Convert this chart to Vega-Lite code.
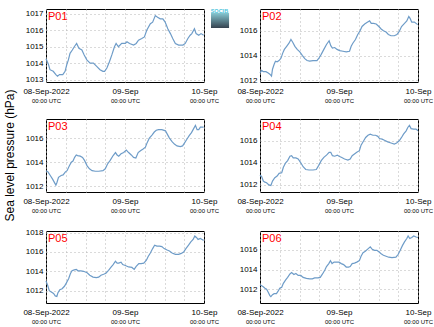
{
  "$schema": "https://vega.github.io/schema/vega-lite/v6.json",
  "padding": {"left": 4, "top": 8, "right": 4, "bottom": 4},
  "title": {"text": "Sea level pressure (hPa)", "orient": "left", "anchor": "middle", "fontSize": 12, "fontWeight": "normal", "color": "#000000", "offset": 5, "dx": 11},
  "datasets": {
    "p01": [{"h":0,"v":1014.26},{"h":0.7,"v":1013.95},{"h":1.2,"v":1013.6},{"h":2.2,"v":1013.5},{"h":3.0,"v":1013.3},{"h":3.5,"v":1013.2},{"h":4.1,"v":1013.3},{"h":5.1,"v":1013.3},{"h":5.8,"v":1013.5},{"h":6.3,"v":1013.9},{"h":6.8,"v":1014.2},{"h":7.3,"v":1014.6},{"h":8.0,"v":1014.8},{"h":8.6,"v":1015.0},{"h":9.3,"v":1015.2},{"h":10.0,"v":1014.9},{"h":10.9,"v":1014.8},{"h":11.6,"v":1014.5},{"h":12.4,"v":1014.2},{"h":13.4,"v":1014.0},{"h":14.4,"v":1014.0},{"h":15.4,"v":1013.8},{"h":16.4,"v":1013.6},{"h":17.3,"v":1013.5},{"h":17.8,"v":1013.5},{"h":18.5,"v":1013.7},{"h":19.3,"v":1014.1},{"h":20.0,"v":1014.5},{"h":20.8,"v":1015.0},{"h":21.3,"v":1015.2},{"h":22.0,"v":1015.0},{"h":23.0,"v":1015.2},{"h":24.1,"v":1015.2},{"h":24.6,"v":1015.3},{"h":25.4,"v":1015.2},{"h":26.6,"v":1015.1},{"h":27.4,"v":1015.2},{"h":28.1,"v":1015.4},{"h":29.1,"v":1015.5},{"h":29.9,"v":1015.6},{"h":30.6,"v":1016.0},{"h":31.7,"v":1016.4},{"h":32.4,"v":1016.5},{"h":33.2,"v":1016.9},{"h":33.9,"v":1016.8},{"h":34.7,"v":1016.7},{"h":35.5,"v":1016.7},{"h":36.2,"v":1016.5},{"h":37.0,"v":1016.1},{"h":37.8,"v":1015.8},{"h":38.5,"v":1015.5},{"h":39.3,"v":1015.2},{"h":40.3,"v":1015.1},{"h":41.6,"v":1015.1},{"h":42.3,"v":1015.2},{"h":43.1,"v":1015.5},{"h":43.8,"v":1015.7},{"h":44.3,"v":1015.8},{"h":45.1,"v":1016.1},{"h":45.6,"v":1015.8},{"h":46.4,"v":1015.7},{"h":47.1,"v":1015.8},{"h":47.9,"v":1015.7}],
    "p02": [{"h":0,"v":1012.6},{"h":0.5,"v":1012.8},{"h":1.0,"v":1012.7},{"h":1.8,"v":1012.7},{"h":2.5,"v":1012.6},{"h":3.0,"v":1012.5},{"h":3.5,"v":1012.35},{"h":3.8,"v":1012.9},{"h":4.3,"v":1013.3},{"h":4.7,"v":1013.55},{"h":5.2,"v":1013.5},{"h":5.8,"v":1013.6},{"h":6.4,"v":1013.8},{"h":6.9,"v":1014.2},{"h":7.4,"v":1014.5},{"h":8.1,"v":1014.75},{"h":8.8,"v":1015.0},{"h":9.4,"v":1015.3},{"h":9.9,"v":1015.1},{"h":10.6,"v":1014.75},{"h":11.3,"v":1014.5},{"h":12.1,"v":1014.3},{"h":12.9,"v":1014.0},{"h":13.6,"v":1013.75},{"h":14.3,"v":1013.6},{"h":15.1,"v":1013.55},{"h":16.1,"v":1013.6},{"h":17.3,"v":1013.6},{"h":17.9,"v":1013.8},{"h":18.6,"v":1014.1},{"h":19.4,"v":1014.5},{"h":20.2,"v":1014.9},{"h":21.0,"v":1015.2},{"h":21.5,"v":1014.8},{"h":22.0,"v":1014.6},{"h":22.7,"v":1014.65},{"h":23.4,"v":1014.5},{"h":24.2,"v":1014.4},{"h":25.2,"v":1014.35},{"h":26.2,"v":1014.3},{"h":27.2,"v":1014.35},{"h":27.7,"v":1014.75},{"h":28.2,"v":1015.0},{"h":29.0,"v":1015.3},{"h":29.7,"v":1015.7},{"h":30.4,"v":1016.0},{"h":31.0,"v":1016.35},{"h":31.8,"v":1016.55},{"h":32.6,"v":1016.7},{"h":33.3,"v":1016.8},{"h":33.8,"v":1016.6},{"h":34.5,"v":1016.6},{"h":35.3,"v":1016.55},{"h":36.1,"v":1016.35},{"h":36.8,"v":1016.15},{"h":37.5,"v":1016.0},{"h":38.3,"v":1015.9},{"h":39.0,"v":1015.7},{"h":39.8,"v":1015.6},{"h":40.8,"v":1015.6},{"h":41.6,"v":1015.7},{"h":42.3,"v":1015.95},{"h":43.0,"v":1016.35},{"h":43.9,"v":1016.6},{"h":44.6,"v":1016.8},{"h":45.2,"v":1017.15},{"h":45.6,"v":1017.0},{"h":46.1,"v":1016.7},{"h":46.9,"v":1016.7},{"h":47.4,"v":1016.6},{"h":47.9,"v":1016.5}],
    "p03": [{"h":0,"v":1013.3},{"h":0.6,"v":1013.2},{"h":1.3,"v":1012.9},{"h":2.0,"v":1012.6},{"h":2.5,"v":1012.35},{"h":3.0,"v":1012.1},{"h":3.3,"v":1012.3},{"h":3.8,"v":1012.75},{"h":4.6,"v":1012.9},{"h":5.2,"v":1012.95},{"h":5.9,"v":1013.2},{"h":6.4,"v":1013.3},{"h":7.1,"v":1013.7},{"h":7.7,"v":1014.0},{"h":8.2,"v":1014.1},{"h":8.7,"v":1014.4},{"h":9.2,"v":1014.6},{"h":9.6,"v":1014.55},{"h":10.4,"v":1014.5},{"h":11.1,"v":1014.4},{"h":11.7,"v":1014.15},{"h":12.5,"v":1013.7},{"h":13.2,"v":1013.45},{"h":14.0,"v":1013.3},{"h":15.0,"v":1013.25},{"h":16.0,"v":1013.25},{"h":17.3,"v":1013.3},{"h":18.0,"v":1013.45},{"h":18.7,"v":1013.85},{"h":19.5,"v":1014.15},{"h":20.4,"v":1014.55},{"h":21.1,"v":1014.8},{"h":21.6,"v":1014.6},{"h":22.1,"v":1014.5},{"h":22.8,"v":1014.7},{"h":23.6,"v":1014.8},{"h":24.4,"v":1015.0},{"h":25.1,"v":1014.8},{"h":25.9,"v":1014.6},{"h":26.6,"v":1014.4},{"h":27.3,"v":1014.35},{"h":28.0,"v":1014.8},{"h":28.7,"v":1014.95},{"h":29.5,"v":1015.1},{"h":30.2,"v":1015.25},{"h":30.7,"v":1015.6},{"h":31.4,"v":1016.0},{"h":32.2,"v":1016.25},{"h":32.9,"v":1016.5},{"h":33.5,"v":1016.65},{"h":34.2,"v":1016.7},{"h":35.2,"v":1016.7},{"h":36.3,"v":1016.6},{"h":36.8,"v":1016.35},{"h":37.5,"v":1016.0},{"h":38.3,"v":1015.7},{"h":39.0,"v":1015.5},{"h":39.8,"v":1015.35},{"h":40.8,"v":1015.3},{"h":41.5,"v":1015.35},{"h":42.1,"v":1015.6},{"h":42.8,"v":1015.9},{"h":43.5,"v":1016.2},{"h":44.2,"v":1016.45},{"h":44.9,"v":1016.8},{"h":45.4,"v":1017.05},{"h":45.9,"v":1016.7},{"h":46.4,"v":1016.7},{"h":46.9,"v":1016.9},{"h":47.6,"v":1016.9},{"h":47.9,"v":1016.9}],
    "p04": [{"h":0,"v":1012.9},{"h":0.5,"v":1012.75},{"h":1.0,"v":1012.35},{"h":1.5,"v":1012.25},{"h":2.0,"v":1012.2},{"h":2.7,"v":1012.0},{"h":3.3,"v":1011.95},{"h":3.8,"v":1012.35},{"h":4.5,"v":1012.65},{"h":5.2,"v":1012.8},{"h":5.8,"v":1013.05},{"h":6.6,"v":1013.1},{"h":7.1,"v":1013.6},{"h":7.8,"v":1014.0},{"h":8.4,"v":1014.2},{"h":9.1,"v":1014.6},{"h":9.6,"v":1014.65},{"h":10.1,"v":1014.45},{"h":10.9,"v":1014.45},{"h":11.6,"v":1014.35},{"h":12.3,"v":1014.05},{"h":13.1,"v":1013.65},{"h":13.9,"v":1013.4},{"h":14.9,"v":1013.35},{"h":16.1,"v":1013.35},{"h":17.1,"v":1013.4},{"h":17.8,"v":1013.75},{"h":18.6,"v":1014.2},{"h":19.4,"v":1014.5},{"h":20.2,"v":1014.7},{"h":21.0,"v":1014.95},{"h":21.5,"v":1014.95},{"h":22.0,"v":1014.65},{"h":22.7,"v":1014.6},{"h":23.5,"v":1014.7},{"h":24.0,"v":1014.6},{"h":24.7,"v":1014.5},{"h":25.7,"v":1014.35},{"h":26.7,"v":1014.25},{"h":27.4,"v":1014.35},{"h":28.0,"v":1014.65},{"h":28.7,"v":1014.8},{"h":29.4,"v":1014.95},{"h":30.2,"v":1015.1},{"h":30.7,"v":1015.6},{"h":31.5,"v":1016.0},{"h":32.1,"v":1016.3},{"h":32.8,"v":1016.5},{"h":33.5,"v":1016.6},{"h":34.3,"v":1016.5},{"h":35.1,"v":1016.5},{"h":35.8,"v":1016.4},{"h":36.3,"v":1016.2},{"h":37.1,"v":1016.15},{"h":37.8,"v":1016.05},{"h":38.8,"v":1015.9},{"h":39.8,"v":1015.8},{"h":40.8,"v":1015.7},{"h":41.5,"v":1015.8},{"h":42.3,"v":1016.0},{"h":43.0,"v":1016.3},{"h":43.6,"v":1016.6},{"h":44.4,"v":1016.9},{"h":44.9,"v":1017.2},{"h":45.4,"v":1017.4},{"h":45.9,"v":1017.1},{"h":46.7,"v":1017.05},{"h":47.4,"v":1017.05},{"h":48.0,"v":1016.9}],
    "p05": [{"h":0,"v":1013.0},{"h":0.5,"v":1012.55},{"h":1.0,"v":1012.0},{"h":1.6,"v":1011.85},{"h":2.3,"v":1011.7},{"h":2.8,"v":1011.45},{"h":3.3,"v":1011.4},{"h":3.6,"v":1011.75},{"h":4.2,"v":1012.1},{"h":4.9,"v":1012.2},{"h":5.6,"v":1012.45},{"h":6.2,"v":1012.8},{"h":6.9,"v":1013.25},{"h":7.4,"v":1013.75},{"h":7.9,"v":1014.05},{"h":8.6,"v":1014.15},{"h":9.2,"v":1014.2},{"h":9.7,"v":1014.05},{"h":10.6,"v":1014.05},{"h":11.4,"v":1014.0},{"h":12.5,"v":1013.85},{"h":13.3,"v":1013.6},{"h":14.3,"v":1013.4},{"h":15.3,"v":1013.35},{"h":16.0,"v":1013.4},{"h":16.7,"v":1013.6},{"h":17.5,"v":1013.7},{"h":18.2,"v":1013.8},{"h":19.0,"v":1014.1},{"h":19.7,"v":1014.4},{"h":20.4,"v":1014.7},{"h":21.1,"v":1015.05},{"h":21.6,"v":1014.85},{"h":22.1,"v":1014.85},{"h":22.8,"v":1014.95},{"h":23.3,"v":1014.7},{"h":24.1,"v":1014.6},{"h":25.1,"v":1014.45},{"h":26.1,"v":1014.4},{"h":26.8,"v":1014.2},{"h":27.4,"v":1014.5},{"h":28.2,"v":1014.8},{"h":28.9,"v":1014.8},{"h":29.7,"v":1014.85},{"h":30.5,"v":1015.15},{"h":31.0,"v":1015.5},{"h":31.7,"v":1015.9},{"h":32.4,"v":1016.35},{"h":33.0,"v":1016.7},{"h":33.7,"v":1016.6},{"h":34.5,"v":1016.6},{"h":35.2,"v":1016.55},{"h":35.9,"v":1016.35},{"h":36.8,"v":1016.2},{"h":37.5,"v":1016.1},{"h":38.3,"v":1015.9},{"h":39.3,"v":1015.75},{"h":40.3,"v":1015.75},{"h":41.1,"v":1015.85},{"h":41.8,"v":1016.0},{"h":42.5,"v":1016.35},{"h":43.3,"v":1016.7},{"h":44.0,"v":1017.05},{"h":44.7,"v":1017.3},{"h":45.2,"v":1017.65},{"h":45.7,"v":1017.5},{"h":46.2,"v":1017.3},{"h":46.9,"v":1017.4},{"h":47.4,"v":1017.3},{"h":47.9,"v":1017.2}],
    "p06": [{"h":0,"v":1012.45},{"h":0.5,"v":1012.35},{"h":1.0,"v":1012.25},{"h":1.5,"v":1012.1},{"h":2.0,"v":1012.0},{"h":2.5,"v":1011.7},{"h":3.0,"v":1011.35},{"h":3.3,"v":1011.25},{"h":3.8,"v":1011.45},{"h":4.3,"v":1011.55},{"h":5.0,"v":1011.55},{"h":5.5,"v":1011.8},{"h":6.0,"v":1012.1},{"h":6.6,"v":1012.2},{"h":7.1,"v":1012.6},{"h":7.8,"v":1012.95},{"h":8.4,"v":1013.2},{"h":9.1,"v":1013.55},{"h":9.6,"v":1013.7},{"h":10.3,"v":1013.5},{"h":10.9,"v":1013.6},{"h":11.6,"v":1013.4},{"h":12.4,"v":1013.4},{"h":13.1,"v":1013.2},{"h":14.1,"v":1013.1},{"h":15.1,"v":1013.05},{"h":15.9,"v":1013.05},{"h":16.6,"v":1013.15},{"h":17.6,"v":1013.15},{"h":18.3,"v":1013.2},{"h":19.0,"v":1013.55},{"h":19.7,"v":1013.95},{"h":20.2,"v":1014.3},{"h":20.9,"v":1014.6},{"h":21.4,"v":1014.9},{"h":21.9,"v":1014.6},{"h":22.5,"v":1014.75},{"h":23.2,"v":1014.75},{"h":24.0,"v":1014.75},{"h":24.7,"v":1014.6},{"h":25.4,"v":1014.5},{"h":26.2,"v":1014.25},{"h":26.9,"v":1014.25},{"h":27.4,"v":1014.3},{"h":28.0,"v":1014.6},{"h":28.7,"v":1014.65},{"h":29.4,"v":1014.75},{"h":30.2,"v":1014.9},{"h":30.7,"v":1015.35},{"h":31.3,"v":1015.7},{"h":32.0,"v":1015.85},{"h":32.8,"v":1016.1},{"h":33.5,"v":1016.3},{"h":34.1,"v":1016.05},{"h":34.8,"v":1015.95},{"h":35.5,"v":1015.95},{"h":36.1,"v":1015.8},{"h":36.8,"v":1015.6},{"h":37.5,"v":1015.45},{"h":38.3,"v":1015.35},{"h":39.1,"v":1015.25},{"h":40.1,"v":1015.2},{"h":41.3,"v":1015.25},{"h":42.0,"v":1015.55},{"h":42.6,"v":1015.95},{"h":43.3,"v":1016.45},{"h":43.9,"v":1016.8},{"h":44.6,"v":1017.15},{"h":45.0,"v":1017.4},{"h":45.5,"v":1017.15},{"h":46.1,"v":1017.25},{"h":46.7,"v":1017.4},{"h":47.4,"v":1017.3},{"h":48.0,"v":1017.25}]
  },
  "vconcat": [
    {
      "spacing": 7,
      "bounds": "flush",
      "hconcat": [
        {
          "width": 158, "height": 73,
          "data": {"name": "p01"},
          "layer": [
            {"mark": {"type": "line", "color": "#6e9cc8", "strokeWidth": 1.2},
             "encoding": {
               "x": {"field": "h", "type": "quantitative", "scale": {"domain": [0, 48], "nice": false}, "axis": {"orient": "bottom", "values": [0,6,12,18,24,30,36,42,48], "labelExpr": "datum.value == 0 ? '08-Sep-2022' : datum.value == 24 ? '09-Sep' : datum.value == 48 ? '10-Sep' : ''", "grid": true, "labelFlush": false, "labelOverlap": false, "labelBound": false, "labelPadding": 5, "labelFontSize": 8, "title": null}},
               "y": {"field": "v", "type": "quantitative", "scale": {"domain": [1012.85, 1017.3], "nice": false, "zero": false}, "axis": {"values": [1013,1014,1015,1016,1017], "format": "d", "labelFontSize": 8, "labelPadding": 3, "labelOverlap": false, "grid": true, "title": null, "minExtent": 22, "maxExtent": 22}}
             }},
            {"mark": {"type": "point", "opacity": 0},
             "encoding": {"x": {"field": "h", "type": "quantitative", "axis": {"orient": "bottom", "values": [0,24,48], "labelExpr": "'00:00 UTC'", "grid": false, "labelFlush": false, "labelOverlap": false, "labelBound": false, "labelPadding": 15, "labelFontSize": 6, "title": null}}}},
            {"data": {"values": [{"label": "P01"}]},
             "mark": {"type": "text", "color": "#ff0000", "fontSize": 11, "align": "left", "baseline": "top", "dx": 2, "dy": 2},
             "encoding": {"text": {"field": "label"}, "x": {"datum": 0, "axis": null}, "y": {"datum": 1017.3, "axis": null}}}
          ],
          "resolve": {"axis": {"x": "independent", "y": "independent"}}
        },
        {
          "width": 42, "height": 19,
          "view": {"stroke": null},
          "data": {"values": [{"name": "SOCIB"}]},
          "layer": [
            {"mark": {"type": "rect", "color": {"gradient": "linear", "x1": 0, "y1": 0, "x2": 0, "y2": 1, "stops": [{"offset": 0, "color": "#86c9d3"}, {"offset": 1, "color": "#35424f"}]}},
             "encoding": {"x": {"datum": 0, "scale": {"domain": [0, 1]}, "axis": null}, "x2": {"datum": 0.43}, "y": {"datum": 0.8, "scale": {"domain": [0, 1]}, "axis": null}, "y2": {"datum": 0}}},
            {"mark": {"type": "text", "color": "#4fc4dc", "fontSize": 5.5, "fontWeight": "bold", "baseline": "top", "align": "center"},
             "encoding": {"text": {"field": "name"}, "x": {"datum": 0.2}, "y": {"datum": 1}}}
          ]
        },
        {
          "width": 158, "height": 73,
          "data": {"name": "p02"},
          "layer": [
            {"mark": {"type": "line", "color": "#6e9cc8", "strokeWidth": 1.2},
             "encoding": {
               "x": {"field": "h", "type": "quantitative", "scale": {"domain": [0, 48], "nice": false}, "axis": {"orient": "bottom", "values": [0,6,12,18,24,30,36,42,48], "labelExpr": "datum.value == 0 ? '08-Sep-2022' : datum.value == 24 ? '09-Sep' : datum.value == 48 ? '10-Sep' : ''", "grid": true, "labelFlush": false, "labelOverlap": false, "labelBound": false, "labelPadding": 5, "labelFontSize": 8, "title": null}},
               "y": {"field": "v", "type": "quantitative", "scale": {"domain": [1011.87, 1017.76], "nice": false, "zero": false}, "axis": {"values": [1012,1014,1016], "format": "d", "labelFontSize": 8, "labelPadding": 3, "labelOverlap": false, "grid": true, "title": null, "minExtent": 22, "maxExtent": 22}}
             }},
            {"mark": {"type": "point", "opacity": 0},
             "encoding": {"x": {"field": "h", "type": "quantitative", "axis": {"orient": "bottom", "values": [0,24,48], "labelExpr": "'00:00 UTC'", "grid": false, "labelFlush": false, "labelOverlap": false, "labelBound": false, "labelPadding": 15, "labelFontSize": 6, "title": null}}}},
            {"data": {"values": [{"label": "P02"}]},
             "mark": {"type": "text", "color": "#ff0000", "fontSize": 11, "align": "left", "baseline": "top", "dx": 2, "dy": 2},
             "encoding": {"text": {"field": "label"}, "x": {"datum": 0, "axis": null}, "y": {"datum": 1017.76, "axis": null}}}
          ],
          "resolve": {"axis": {"x": "independent", "y": "independent"}}
        }
      ]
    },
    {
      "spacing": 56,
      "bounds": "flush",
      "hconcat": [
        {
          "width": 158, "height": 73,
          "data": {"name": "p03"},
          "layer": [
            {"mark": {"type": "line", "color": "#6e9cc8", "strokeWidth": 1.2},
             "encoding": {
               "x": {"field": "h", "type": "quantitative", "scale": {"domain": [0, 48], "nice": false}, "axis": {"orient": "bottom", "values": [0,6,12,18,24,30,36,42,48], "labelExpr": "datum.value == 0 ? '08-Sep-2022' : datum.value == 24 ? '09-Sep' : datum.value == 48 ? '10-Sep' : ''", "grid": true, "labelFlush": false, "labelOverlap": false, "labelBound": false, "labelPadding": 5, "labelFontSize": 8, "title": null}},
               "y": {"field": "v", "type": "quantitative", "scale": {"domain": [1011.53, 1017.58], "nice": false, "zero": false}, "axis": {"values": [1012,1014,1016], "format": "d", "labelFontSize": 8, "labelPadding": 3, "labelOverlap": false, "grid": true, "title": null, "minExtent": 22, "maxExtent": 22}}
             }},
            {"mark": {"type": "point", "opacity": 0},
             "encoding": {"x": {"field": "h", "type": "quantitative", "axis": {"orient": "bottom", "values": [0,24,48], "labelExpr": "'00:00 UTC'", "grid": false, "labelFlush": false, "labelOverlap": false, "labelBound": false, "labelPadding": 15, "labelFontSize": 6, "title": null}}}},
            {"data": {"values": [{"label": "P03"}]},
             "mark": {"type": "text", "color": "#ff0000", "fontSize": 11, "align": "left", "baseline": "top", "dx": 2, "dy": 2},
             "encoding": {"text": {"field": "label"}, "x": {"datum": 0, "axis": null}, "y": {"datum": 1017.58, "axis": null}}}
          ],
          "resolve": {"axis": {"x": "independent", "y": "independent"}}
        },
        {
          "width": 158, "height": 73,
          "data": {"name": "p04"},
          "layer": [
            {"mark": {"type": "line", "color": "#6e9cc8", "strokeWidth": 1.2},
             "encoding": {
               "x": {"field": "h", "type": "quantitative", "scale": {"domain": [0, 48], "nice": false}, "axis": {"orient": "bottom", "values": [0,6,12,18,24,30,36,42,48], "labelExpr": "datum.value == 0 ? '08-Sep-2022' : datum.value == 24 ? '09-Sep' : datum.value == 48 ? '10-Sep' : ''", "grid": true, "labelFlush": false, "labelOverlap": false, "labelBound": false, "labelPadding": 5, "labelFontSize": 8, "title": null}},
               "y": {"field": "v", "type": "quantitative", "scale": {"domain": [1011.36, 1017.97], "nice": false, "zero": false}, "axis": {"values": [1012,1014,1016], "format": "d", "labelFontSize": 8, "labelPadding": 3, "labelOverlap": false, "grid": true, "title": null, "minExtent": 22, "maxExtent": 22}}
             }},
            {"mark": {"type": "point", "opacity": 0},
             "encoding": {"x": {"field": "h", "type": "quantitative", "axis": {"orient": "bottom", "values": [0,24,48], "labelExpr": "'00:00 UTC'", "grid": false, "labelFlush": false, "labelOverlap": false, "labelBound": false, "labelPadding": 15, "labelFontSize": 6, "title": null}}}},
            {"data": {"values": [{"label": "P04"}]},
             "mark": {"type": "text", "color": "#ff0000", "fontSize": 11, "align": "left", "baseline": "top", "dx": 2, "dy": 2},
             "encoding": {"text": {"field": "label"}, "x": {"datum": 0, "axis": null}, "y": {"datum": 1017.97, "axis": null}}}
          ],
          "resolve": {"axis": {"x": "independent", "y": "independent"}}
        }
      ]
    },
    {
      "spacing": 56,
      "bounds": "flush",
      "hconcat": [
        {
          "width": 158, "height": 72,
          "data": {"name": "p05"},
          "layer": [
            {"mark": {"type": "line", "color": "#6e9cc8", "strokeWidth": 1.2},
             "encoding": {
               "x": {"field": "h", "type": "quantitative", "scale": {"domain": [0, 48], "nice": false}, "axis": {"orient": "bottom", "values": [0,6,12,18,24,30,36,42,48], "labelExpr": "datum.value == 0 ? '08-Sep-2022' : datum.value == 24 ? '09-Sep' : datum.value == 48 ? '10-Sep' : ''", "grid": true, "labelFlush": false, "labelOverlap": false, "labelBound": false, "labelPadding": 5, "labelFontSize": 8, "title": null}},
               "y": {"field": "v", "type": "quantitative", "scale": {"domain": [1010.72, 1018.17], "nice": false, "zero": false}, "axis": {"values": [1012,1014,1016,1018], "format": "d", "labelFontSize": 8, "labelPadding": 3, "labelOverlap": false, "grid": true, "title": null, "minExtent": 22, "maxExtent": 22}}
             }},
            {"mark": {"type": "point", "opacity": 0},
             "encoding": {"x": {"field": "h", "type": "quantitative", "axis": {"orient": "bottom", "values": [0,24,48], "labelExpr": "'00:00 UTC'", "grid": false, "labelFlush": false, "labelOverlap": false, "labelBound": false, "labelPadding": 15, "labelFontSize": 6, "title": null}}}},
            {"data": {"values": [{"label": "P05"}]},
             "mark": {"type": "text", "color": "#ff0000", "fontSize": 11, "align": "left", "baseline": "top", "dx": 2, "dy": 2},
             "encoding": {"text": {"field": "label"}, "x": {"datum": 0, "axis": null}, "y": {"datum": 1018.17, "axis": null}}}
          ],
          "resolve": {"axis": {"x": "independent", "y": "independent"}}
        },
        {
          "width": 158, "height": 72,
          "data": {"name": "p06"},
          "layer": [
            {"mark": {"type": "line", "color": "#6e9cc8", "strokeWidth": 1.2},
             "encoding": {
               "x": {"field": "h", "type": "quantitative", "scale": {"domain": [0, 48], "nice": false}, "axis": {"orient": "bottom", "values": [0,6,12,18,24,30,36,42,48], "labelExpr": "datum.value == 0 ? '08-Sep-2022' : datum.value == 24 ? '09-Sep' : datum.value == 48 ? '10-Sep' : ''", "grid": true, "labelFlush": false, "labelOverlap": false, "labelBound": false, "labelPadding": 5, "labelFontSize": 8, "title": null}},
               "y": {"field": "v", "type": "quantitative", "scale": {"domain": [1010.6, 1017.91], "nice": false, "zero": false}, "axis": {"values": [1012,1014,1016], "format": "d", "labelFontSize": 8, "labelPadding": 3, "labelOverlap": false, "grid": true, "title": null, "minExtent": 22, "maxExtent": 22}}
             }},
            {"mark": {"type": "point", "opacity": 0},
             "encoding": {"x": {"field": "h", "type": "quantitative", "axis": {"orient": "bottom", "values": [0,24,48], "labelExpr": "'00:00 UTC'", "grid": false, "labelFlush": false, "labelOverlap": false, "labelBound": false, "labelPadding": 15, "labelFontSize": 6, "title": null}}}},
            {"data": {"values": [{"label": "P06"}]},
             "mark": {"type": "text", "color": "#ff0000", "fontSize": 11, "align": "left", "baseline": "top", "dx": 2, "dy": 2},
             "encoding": {"text": {"field": "label"}, "x": {"datum": 0, "axis": null}, "y": {"datum": 1017.91, "axis": null}}}
          ],
          "resolve": {"axis": {"x": "independent", "y": "independent"}}
        }
      ]
    }
  ],
  "spacing": 14,
  "config": {
    "font": "Liberation Sans",
    "view": {"stroke": "#000000", "strokeWidth": 1},
    "axis": {"labelColor": "#000000", "labelFont": "Liberation Sans", "gridColor": "#b4b4b4", "gridDash": [1, 3], "gridWidth": 1, "domain": false, "ticks": false},
    "title": {"fontWeight": "normal"}
  }
}
